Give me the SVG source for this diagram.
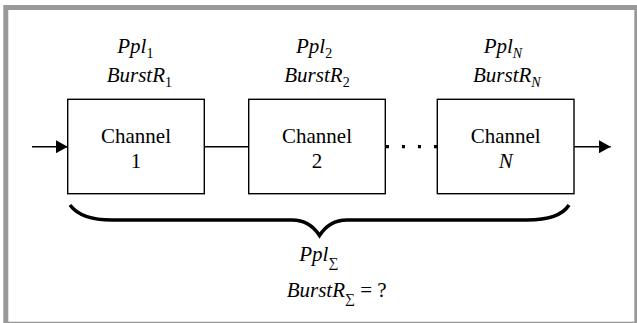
<svg xmlns="http://www.w3.org/2000/svg" width="637" height="323" viewBox="0 0 637 323">
<style>
.frame{fill:#fff;stroke:#999;stroke-width:5}
.box{fill:#fff;stroke:#000;stroke-width:1.4}
.line{stroke:#000;stroke-width:1.4;fill:none}
text{font-family:'Liberation Serif','DejaVu Serif',serif;font-size:21px;fill:#000}
.i{font-style:italic}
.n{font-style:normal}
.sub{font-size:14px}
</style>
<defs>
<marker id="ah" markerWidth="12" markerHeight="13" refX="11.7" refY="6.5" orient="auto" markerUnits="userSpaceOnUse">
<path d="M0,0 L11.7,6.5 L0,13 Z" fill="#000"/>
</marker>
</defs>
<rect class="frame" x="5.8" y="7.5" width="631" height="316.7"/>
<g id="connectors">
<line class="line" x1="32" y1="146.7" x2="67.7" y2="146.7" marker-end="url(#ah)"/>
<line class="line" x1="204.3" y1="146.7" x2="248.7" y2="146.7"/>
<line x1="386" y1="146.7" x2="437.3" y2="146.7" stroke="#000" stroke-width="3.2" stroke-dasharray="3 13"/>
<line class="line" x1="574" y1="146.7" x2="610.7" y2="146.7" marker-end="url(#ah)"/>
<path d="M70,205 C78,216 92,220 112,220 L292,220 C306,220 314,227 319.5,235.5 C325,227 333,220 347,220 L527,220 C547,220 562,216 569,205" fill="none" stroke="#000" stroke-width="3.5"/>
</g>
<g id="channel1">
<rect class="box" x="67.7" y="99.3" width="136.6" height="94.4"/>
<text x="136" y="143.3" text-anchor="middle" font-family="Liberation Serif, serif">Channel</text>
<text x="136" y="167.5" text-anchor="middle">1</text>
<text class="i" x="117.3" y="53">Ppl<tspan class="sub n" dy="5">1</tspan></text>
<text class="i" x="106.7" y="82">BurstR<tspan class="sub n" dy="5">1</tspan></text>
</g>
<g id="channel2">
<rect class="box" x="248.7" y="99.3" width="136.6" height="94.4"/>
<text x="317" y="143.3" text-anchor="middle">Channel</text>
<text x="317" y="167.5" text-anchor="middle">2</text>
<text class="i" x="296" y="53">Ppl<tspan class="sub n" dy="5">2</tspan></text>
<text class="i" x="284.3" y="82">BurstR<tspan class="sub n" dy="5">2</tspan></text>
</g>
<g id="channelN">
<rect class="box" x="437.3" y="99.3" width="136.7" height="94.4"/>
<text x="505.7" y="143.3" text-anchor="middle">Channel</text>
<text class="i" x="505.7" y="167.5" text-anchor="middle">N</text>
<text class="i" x="483.7" y="53">Ppl<tspan class="sub" dy="5">N</tspan></text>
<text class="i" x="473" y="82">BurstR<tspan class="sub" dy="5">N</tspan></text>
</g>
<g id="total">
<text class="i" x="299.3" y="261">Ppl<tspan class="sub n" dy="6">∑</tspan></text>
<text x="286.7" y="296.7"><tspan class="i">BurstR</tspan><tspan class="sub" dy="6">∑</tspan><tspan dy="-6"> = ?</tspan></text>
</g>
</svg>
